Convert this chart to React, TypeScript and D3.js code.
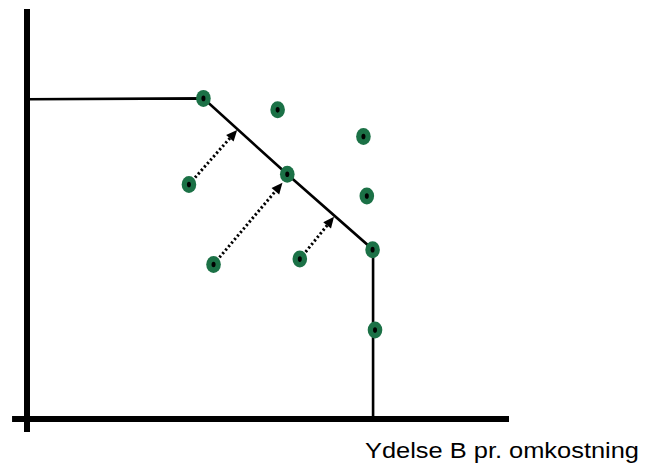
import * as d3 from "d3";

const W = 650;
const H = 467;

// alternatives: [x, y] in chart units (0..100)
const points: [number, number][] = [
  [36.6, 78.2],
  [52.0, 75.4],
  [69.8, 68.9],
  [33.6, 57.2],
  [54.0, 59.7],
  [70.5, 54.4],
  [38.7, 37.7],
  [56.6, 39.0],
  [71.7, 41.3],
  [72.2, 21.7],
];

// efficient frontier
const frontier: [number, number][] = [
  [0, 78],
  [36.6, 78.2],
  [54.0, 59.7],
  [71.8, 41.3],
  [71.8, 0],
];

// improvement arrows: from inefficient point to frontier
const arrows: { from: [number, number]; to: [number, number] }[] = [
  { from: [33.6, 57.2], to: [43.6, 70.5] },
  { from: [38.7, 37.7], to: [53.0, 57.6] },
  { from: [56.6, 39.0], to: [63.7, 49.3] },
];

const xLabel = "Ydelse B pr. omkostning";

const x = d3.scaleLinear().domain([0, 100]).range([27, 509]);
const y = d3.scaleLinear().domain([0, 100]).range([419, 9]);

const line = d3
  .line<[number, number]>()
  .x((d) => x(d[0]))
  .y((d) => y(d[1]));

const green = "#1b7146";

export default function App() {
  return (
    <svg
      width={W}
      height={H}
      style={{ position: "absolute", left: 0, top: 0, background: "#fff" }}
    >
      {/* axes */}
      <line x1={x(0)} x2={x(0)} y1={y(100)} y2={y(-3.2)} stroke="#000" strokeWidth={6} />
      <line x1={x(-3.1)} x2={x(100)} y1={y(0)} y2={y(0)} stroke="#000" strokeWidth={6} />

      {/* frontier */}
      <path d={line(frontier) ?? ""} fill="none" stroke="#000" strokeWidth={2.6} />

      {/* dotted arrows */}
      {arrows.map((a, i) => {
        const x0 = x(a.from[0]);
        const y0 = y(a.from[1]);
        const x1 = x(a.to[0]);
        const y1 = y(a.to[1]);
        const ang = Math.atan2(y1 - y0, x1 - x0);
        const len = 11;
        const half = 5;
        const bx = x1 - len * Math.cos(ang);
        const by = y1 - len * Math.sin(ang);
        const px = -Math.sin(ang) * half;
        const py = Math.cos(ang) * half;
        return (
          <g key={i}>
            <line
              x1={x0}
              y1={y0}
              x2={bx}
              y2={by}
              stroke="#000"
              strokeWidth={3}
              strokeDasharray="2.2,2.4"
            />
            <polygon
              points={`${x1},${y1} ${bx + px},${by + py} ${bx - px},${by - py}`}
              fill="#000"
            />
          </g>
        );
      })}

      {/* alternatives */}
      {points.map((p, i) => (
        <g key={i}>
          <ellipse cx={x(p[0])} cy={y(p[1])} rx={7.3} ry={8.5} fill={green} />
          <ellipse cx={x(p[0])} cy={y(p[1])} rx={2} ry={2.8} fill="#000" />
        </g>
      ))}

      <text
        x={639}
        y={458}
        textAnchor="end"
        fontFamily="Liberation Sans, Arial, sans-serif"
        fontSize={22}
        textLength={274}
        lengthAdjust="spacingAndGlyphs"
        fill="#000"
      >
        {xLabel}
      </text>
    </svg>
  );
}
